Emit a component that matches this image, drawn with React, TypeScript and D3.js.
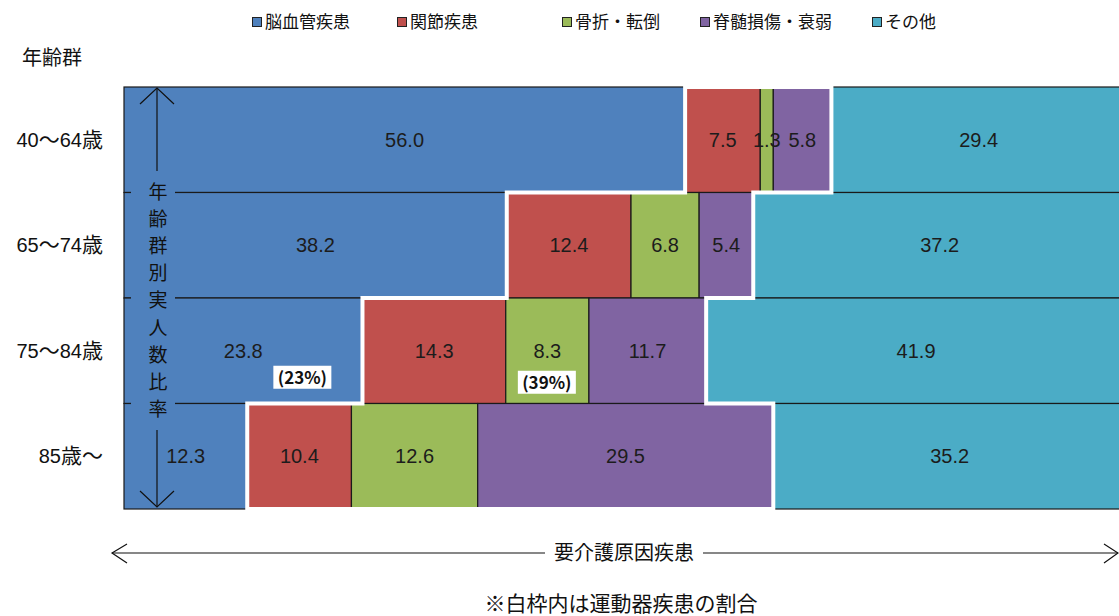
import React from 'react';
import * as d3 from 'd3';

// 年齢群
const ageGroups = ['40～64歳', '65～74歳', '75～84歳', '85歳～'];

// 要介護原因疾患
const causes = ['脳血管疾患', '関節疾患', '骨折・転倒', '脊髄損傷・衰弱', 'その他'];
const causeColors = ['#4F81BD', '#C0504D', '#9BBB59', '#8064A2', '#4BACC6'];

// 年齢群別実人数比率 (%)
const cerebro = [56.0, 38.2, 23.8, 12.3];
const joint = [7.5, 12.4, 14.3, 10.4];
const fracture = [1.3, 6.8, 8.3, 12.6];
const spinal = [5.8, 5.4, 11.7, 29.5];
const others = [29.4, 37.2, 41.9, 35.2];

const seriesValues = [cerebro, joint, fracture, spinal, others];

// 白枠内(運動器疾患)の割合の注記
const notes = [
  { text: '(23%)', row: '75～84歳', at: 17.8, dy: 27 },
  { text: '(39%)', row: '75～84歳', at: 42.2, dy: 32 },
];

const legendX = [252, 397, 562, 700, 872];

const W = 1119;
const H = 616;
const plot = { left: 124, right: 1126, top: 87, bottom: 509 };

const App: React.FC = () => {
  const x = d3.scaleLinear().domain([0, 100]).range([plot.left, plot.right]);
  const y = d3.scaleBand<string>().domain(ageGroups).range([plot.top, plot.bottom]).padding(0);
  const bh = y.bandwidth();

  // stacked rows
  const rows = ageGroups.map((g, i) => {
    let acc = 0;
    return seriesValues.map((s, k) => {
      const x0 = acc;
      acc += s[i];
      return { group: g, k, value: s[i], x0, x1: acc };
    });
  });

  // 運動器疾患 (関節・骨折・脊髄) の白枠
  const rightSide: [number, number][] = [];
  const leftSide: [number, number][] = [];
  rows.forEach(r => {
    const top = y(r[0].group)!;
    const bot = top + bh;
    const s = r[1].x0;
    const e = r[3].x1;
    rightSide.push([x(e), top], [x(e), bot]);
    leftSide.unshift([x(s), bot], [x(s), top]);
  });
  const frame = d3.line()([...rightSide, ...leftSide]) + 'Z';

  const jp = '"Noto Sans CJK JP", sans-serif';
  const num = '"Liberation Sans", "DejaVu Sans", sans-serif';

  const arrowX = 157;
  const bottomArrowY = 553;

  return (
    <div style={{ position: 'absolute', left: 0, top: 0 }}>
      <svg width={W} height={H} style={{ display: 'block', background: '#fff' }}>
        {/* legend */}
        {causes.map((c, k) => (
          <g key={c} transform={`translate(${legendX[k]},0)`}>
            <rect x={0.5} y={17.5} width={9} height={9} fill={causeColors[k]} stroke="#222" strokeWidth={1} />
            <text x={13} y={28} fontFamily={jp} fontSize={17} fill="#111">{c}</text>
          </g>
        ))}

        <text x={52} y={65} textAnchor="middle" fontFamily={jp} fontSize={20} fill="#111">年齢群</text>

        {/* bars */}
        {rows.map(r =>
          r.map(d => (
            <rect
              key={d.group + d.k}
              x={x(d.x0)}
              y={y(d.group)}
              width={x(d.x1) - x(d.x0)}
              height={bh}
              fill={causeColors[d.k]}
              stroke="#1a1a1a"
              strokeWidth={1.2}
            />
          ))
        )}

        {/* age labels */}
        {ageGroups.map(g => (
          <text key={g} x={103} y={y(g)! + bh / 2 + 7} textAnchor="end" fontFamily={num} fontSize={20} fill="#111">
            {g.split(/(歳|～)/).filter(Boolean).map((p, i) =>
              /歳|～/.test(p)
                ? <tspan key={i} fontFamily={jp} fontSize={21}>{p}</tspan>
                : <tspan key={i}>{p}</tspan>
            )}
          </text>
        ))}

        {/* white frame */}
        <path d={frame} fill="none" stroke="#fff" strokeWidth={4} strokeLinejoin="miter" />

        {/* value labels */}
        {rows.map(r =>
          r.map(d => (
            <text
              key={'v' + d.group + d.k}
              x={(x(d.x0) + x(d.x1)) / 2}
              y={y(d.group)! + bh / 2 + 7}
              textAnchor="middle"
              fontFamily={num}
              fontSize={20}
              fill="#1c1c1c"
            >
              {d.value.toFixed(1)}
            </text>
          ))
        )}

        {/* notes */}
        {notes.map(n => {
          const cx = x(n.at);
          const cy = y(n.row)! + bh / 2 + n.dy;
          return (
            <g key={n.text}>
              <rect x={cx - 29} y={cy - 12} width={58} height={23} fill="#fff" />
              <text x={cx} y={cy + 6} textAnchor="middle" fontFamily={jp} fontWeight="bold" fontSize={17} fill="#111">
                {n.text}
              </text>
            </g>
          );
        })}

        {/* vertical arrow : 年齢群別実人数比率 */}
        <rect x={131} y={171} width={44} height={259} fill={causeColors[0]} />
        <line x1={arrowX} y1={plot.top + 1} x2={arrowX} y2={171} stroke="#111" strokeWidth={1.2} />
        <line x1={arrowX} y1={430} x2={arrowX} y2={plot.bottom - 2} stroke="#111" strokeWidth={1.2} />
        <polyline points={`${arrowX - 17},${plot.top + 17} ${arrowX},${plot.top + 1} ${arrowX + 17},${plot.top + 17}`} fill="none" stroke="#111" strokeWidth={1.2} />
        <polyline points={`${arrowX - 17},${plot.bottom - 18} ${arrowX},${plot.bottom - 2} ${arrowX + 17},${plot.bottom - 18}`} fill="none" stroke="#111" strokeWidth={1.2} />
        {'年齢群別実人数比率'.split('').map((ch, i) => (
          <text key={i} x={arrowX + 1} y={199 + i * 27.1} textAnchor="middle" fontFamily={jp} fontSize={19} fill="#111">{ch}</text>
        ))}

        {/* horizontal arrow : 要介護原因疾患 */}
        <line x1={112} y1={bottomArrowY} x2={545} y2={bottomArrowY} stroke="#111" strokeWidth={1.2} />
        <line x1={703} y1={bottomArrowY} x2={1118} y2={bottomArrowY} stroke="#111" strokeWidth={1.2} />
        <polyline points={`127,${bottomArrowY - 9} 112,${bottomArrowY} 127,${bottomArrowY + 10}`} fill="none" stroke="#111" strokeWidth={1.2} />
        <polyline points={`1104,${bottomArrowY - 9} 1118,${bottomArrowY} 1104,${bottomArrowY + 10}`} fill="none" stroke="#111" strokeWidth={1.2} />
        <text x={624} y={560} textAnchor="middle" fontFamily={jp} fontSize={20} fill="#111">要介護原因疾患</text>

        <text x={621} y={611} textAnchor="middle" fontFamily={jp} fontSize={21} fill="#111">※白枠内は運動器疾患の割合</text>
      </svg>
    </div>
  );
};

export default App;
